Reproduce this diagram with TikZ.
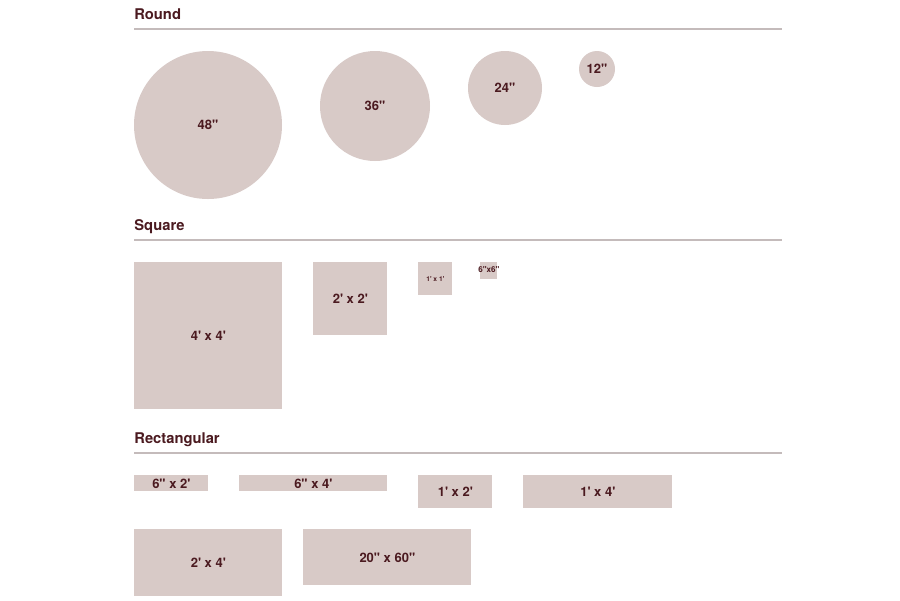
\documentclass[tikz,border=0pt]{standalone}
\usepackage{fontspec}
\setmainfont{TeX Gyre Heros}
\usetikzlibrary{calc}
\definecolor{tile}{HTML}{D8CAC7}
\definecolor{ink}{HTML}{4B1A20}
\definecolor{rulegray}{HTML}{C4BBBB}
\newcommand{\px}{0.02cm}
\newcommand{\ft}{\textquotesingle}
\newcommand{\inch}{\textquotedbl}
\tikzset{
	piece/.style={fill=tile,inner sep=0pt,text=ink,font=\bfseries\fontsize{7.4}{8}\selectfont},
	tiny piece/.style={piece,font=\bfseries\fontsize{3.8}{4}\selectfont},
	heading/.style={anchor=base west,inner sep=0pt,text=ink,font=\bfseries\fontsize{8.4}{10}\selectfont},
	headrule/.style={draw=rulegray,line width=0.6pt}
}
\newcommand{\makehead}[3]{
	\node (#1) [heading] at (134,#2) {#3};
	\draw[headrule] ($(#1.base west)+(0,10)$) -- +(648,0);
}
\newcommand{\makeround}[5]{
	\node (#1) [piece,circle,minimum size=2*#4*\px] at (#2,#3) {#5};
}
\newcommand{\maketile}[6]{
	\node (#1) [piece,anchor=north west,minimum width=#4*\px,minimum height=#5*\px] at (#2,#3) {#6};
}

\begin{document}
\begin{tikzpicture}[x=\px,y=-\px]
	\fill[white] (0,0) rectangle (900,600);
	\useasboundingbox (0,0) rectangle (900,600);

	\makehead{round}{19}{Round}
		\makeround{r48}{208}{125}{74}{48\inch}
		\makeround{r36}{375}{106}{55}{36\inch}
		\makeround{r24}{505}{88}{37}{24\inch}
		\makeround{r12}{597}{69}{18}{12\inch}

	\makehead{square}{230}{Square}
		\maketile{s4}{134}{262}{148}{147}{4\ft{} x 4\ft}
		\maketile{s2}{313}{262}{74}{73}{2\ft{} x 2\ft}
		\node (s1) [tiny piece,anchor=north west,minimum width=34*\px,minimum height=33*\px] at (418,262) {1\ft{} x 1\ft};
		\node (s6) [piece,anchor=north west,minimum width=17*\px,minimum height=17*\px] at (480,262) {};
		\node (s6l) [text=ink,inner sep=0pt,font=\bfseries\fontsize{4.6}{5}\selectfont] at ($(s6.center)+(0,-1)$) {6\inch{}x6\inch};

	\makehead{rect}{443}{Rectangular}
		\maketile{q62}{134}{475}{74}{16}{6\inch{} x 2\ft}
		\maketile{q64}{239}{475}{148}{16}{6\inch{} x 4\ft}
		\maketile{q12}{418}{475}{74}{33}{1\ft{} x 2\ft}
		\maketile{q14}{523}{475}{149}{33}{1\ft{} x 4\ft}
		\maketile{q24}{134}{529}{148}{67}{2\ft{} x 4\ft}
		\maketile{q2060}{303}{529}{168}{56}{20\inch{} x 60\inch}
\end{tikzpicture}
\end{document}
